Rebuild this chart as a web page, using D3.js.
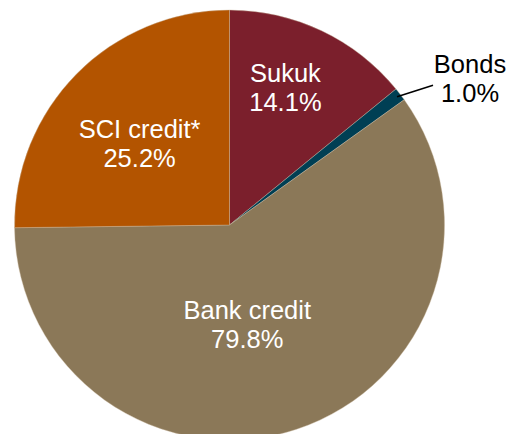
<!DOCTYPE html>
<html>
<head>
<meta charset="utf-8">
<script src="https://cdn.jsdelivr.net/npm/d3@7"></script>
<style>
  body { margin: 0; background: #fff; }
  text { font-family: "Liberation Sans", Arial, sans-serif; }
</style>
</head>
<body>
<div id="chart"></div>
<script>
// data
var categories = ["Sukuk", "Bonds", "Bank credit", "SCI credit*"];
var values = [14.1, 1.0, 59.7, 25.2];          // slice sizes (angles)
var labels = ["14.1%", "1.0%", "79.8%", "25.2%"]; // printed labels
var colors = ["#7b1f2c", "#003f54", "#8b7858", "#b35400"];

var svgWidth = 514;
var svgHeight = 434;
var radius = 215;
var cx = 229.5, cy = 225;

var svg = d3.select("#chart").append("svg")
  .attr("width", svgWidth)
  .attr("height", svgHeight);

var g = svg.append("g")
  .attr("transform", `translate(${cx}, ${cy})`);

var pie = d3.pie()
  .sort(null)
  .value(function(d, i) { return values[i]; });

var arc = d3.arc().innerRadius(0).outerRadius(radius);

var arcs = pie(categories);

g.selectAll("path")
  .data(arcs)
  .enter()
  .append("path")
  .attr("d", arc)
  .attr("fill", function(d, i) { return colors[i]; })
  .attr("stroke", "#c9b9a0")
  .attr("stroke-width", 0.4);

// label placement (polar offsets from centre: angle in degrees, distance)
var labelPlace = [[22.2, 148], null, [170, 102], [-48, 121]];

arcs.forEach(function(d, i) {
  var x, y, fill;
  if (labelPlace[i]) {
    var a = labelPlace[i][0] * Math.PI / 180;
    x = Math.sin(a) * labelPlace[i][1];
    y = -Math.cos(a) * labelPlace[i][1];
    fill = "#fff";
  } else {
    // outside label with leader line
    var mid = (d.startAngle + d.endAngle) / 2;
    var px = Math.sin(mid) * (radius - 4), py = -Math.cos(mid) * (radius - 4);
    g.append("line")
      .attr("x1", px).attr("y1", py)
      .attr("x2", px + 36).attr("y2", py - 11.5)
      .attr("stroke", "#000")
      .attr("stroke-width", 1.5);
    x = 470 - cx;
    y = 79 - cy;
    fill = "#000";
  }
  var t = g.append("text")
    .attr("text-anchor", "middle")
    .attr("fill", fill)
    .style("font-size", "25.5px");
  t.append("tspan").attr("x", x).attr("y", y - 6).text(categories[i]);
  t.append("tspan").attr("x", x).attr("y", y + 23).text(labels[i]);
});
</script>
</body>
</html>
